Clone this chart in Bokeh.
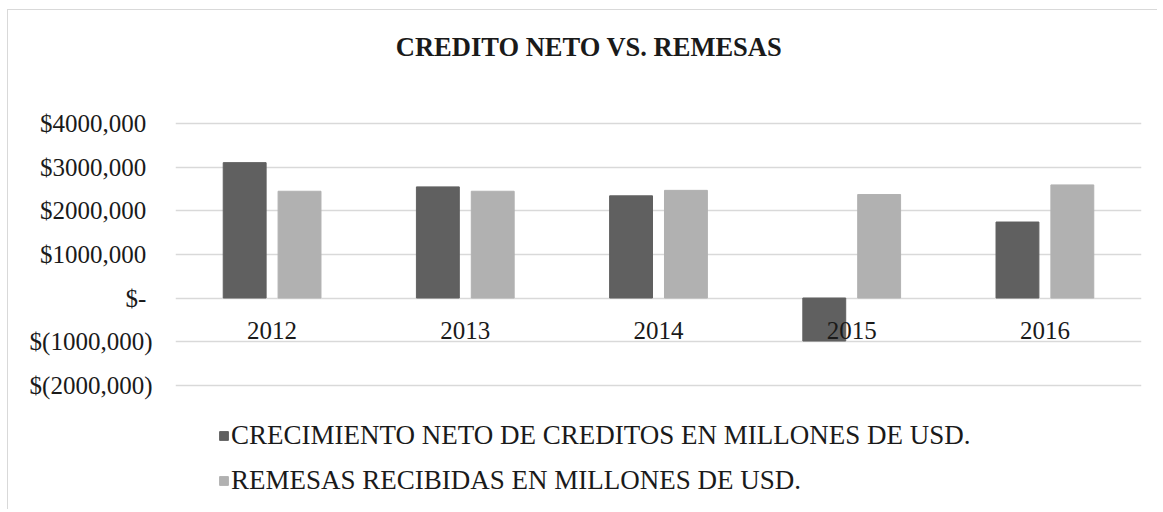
from bokeh.plotting import figure
from bokeh.models import (ColumnDataSource, FactorRange, Range1d, FixedTicker, Label,
                          Legend, LegendItem)
from bokeh.core.properties import value
from bokeh.transform import dodge
from bokeh.embed import file_html
from bokeh.resources import INLINE

# ---- data ----
years = ["2012", "2013", "2014", "2015", "2016"]
credito = [3100000, 2545000, 2340000, -985000, 1740000]
remesas = [2445000, 2445000, 2465000, 2370000, 2590000]
tick_values = [-2000000, -1000000, 0, 1000000, 2000000, 3000000, 4000000]
tick_labels = ["$(2000,000)", "$(1000,000)", "$-\u00a0", "$1000,000\u00a0",
               "$2000,000\u00a0", "$3000,000\u00a0", "$4000,000\u00a0"]
title_text = "CREDITO NETO VS. REMESAS"
series_names = ["CRECIMIENTO NETO DE CREDITOS EN MILLONES DE USD.",
                "REMESAS RECIBIDAS EN MILLONES DE USD."]
colors = ["#606060", "#b1b1b1"]

FONT = "Liberation Serif"
TEXT_COLOR = "#1a1a1a"
GRID = "#d9d9d9"

source = ColumnDataSource(dict(year=years, credito=credito, remesas=remesas))

# the plotting frame covers the whole height; only the fixed ticks get gridlines
p = figure(width=1150, height=500, output_backend="svg", toolbar_location=None,
           x_range=FactorRange(*years, range_padding=0),
           y_range=Range1d(-4866000, 6584000),
           x_axis_location=None,
           min_border_left=167, min_border_right=17, min_border_top=0, min_border_bottom=0)
p.styles = {"border-left": "1px solid #d9d9d9", "border-top": "1px solid #d9d9d9",
            "margin-left": "7px", "margin-top": "9px"}
p.outline_line_color = None
p.background_fill_color = "white"
p.border_fill_color = "white"

r1 = p.vbar(x=dodge("year", -0.142, range=p.x_range), top="credito", width=0.222,
            source=source, fill_color=colors[0], line_color=colors[0])
r2 = p.vbar(x=dodge("year", 0.142, range=p.x_range), top="remesas", width=0.222,
            source=source, fill_color=colors[1], line_color=colors[1])

# category labels under the zero line
p.text(x="year", y=0, text="year", source=source, y_offset=32,
       text_align="center", text_baseline="alphabetic",
       text_font=value(FONT), text_font_size=value("25px"), text_color=TEXT_COLOR)

# y axis
p.yaxis.ticker = FixedTicker(ticks=tick_values)
p.yaxis.major_label_overrides = {v: l for v, l in zip(tick_values, tick_labels)}
p.yaxis.axis_line_color = None
p.yaxis.major_tick_line_color = None
p.yaxis.minor_tick_line_color = None
p.yaxis.major_tick_out = 0
p.yaxis.major_tick_in = 0
p.yaxis.major_label_standoff = 23
p.yaxis.major_label_text_font = FONT
p.yaxis.major_label_text_font_size = "25px"
p.yaxis.major_label_text_color = TEXT_COLOR

p.xgrid.grid_line_color = None
p.ygrid.ticker = FixedTicker(ticks=tick_values)
p.ygrid.grid_line_color = GRID
p.ygrid.grid_line_width = 1.3

# title (screen units relative to the frame)
p.add_layout(Label(x=413.5, y=464, x_units="screen", y_units="screen", text=title_text,
                   text_font=FONT, text_font_size="26.5px", text_font_style="bold",
                   text_align="center", text_baseline="alphabetic", text_color=TEXT_COLOR))

# legend
legend = Legend(items=[LegendItem(label=series_names[0], renderers=[r1]),
                       LegendItem(label=series_names[1], renderers=[r2])],
                location=(43, 14), orientation="vertical",
                glyph_width=11, glyph_height=11, label_height=30, spacing=14,
                label_standoff=2, padding=0, margin=0,
                border_line_color=None, background_fill_alpha=0,
                label_text_font=FONT, label_text_font_size="27px",
                label_text_color=TEXT_COLOR)
p.add_layout(legend, "center")

open("out.html", "w").write(file_html(p, INLINE))
